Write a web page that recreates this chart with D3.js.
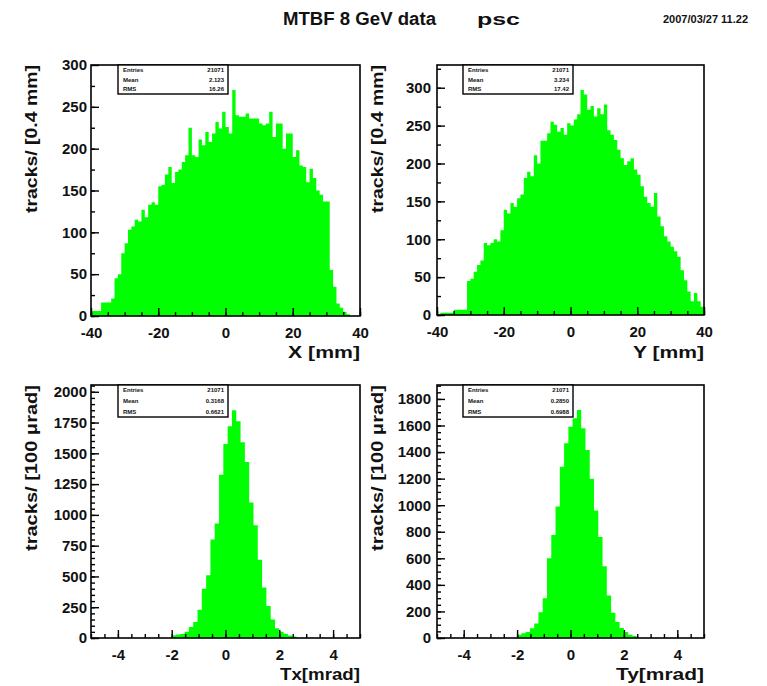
<!DOCTYPE html>
<html>
<head>
<meta charset="utf-8">
<script src="https://cdn.jsdelivr.net/npm/d3@7/dist/d3.min.js"></script>
<style>
  body { margin: 0; background: #fff; }
  svg text { font-family: "Liberation Sans", Arial, sans-serif; font-weight: bold; fill: #111; }
</style>
</head>
<body>
<svg id="paper"></svg>
<script>
// histogram contents (one value per bin)
const xCounts = [6, 6, 6, 16, 16, 16, 21, 45, 50, 75, 87, 103, 107, 115, 113, 127, 118, 133, 136, 133,
  155, 157, 169, 178, 159, 172, 175, 184, 192, 225, 192, 190, 211, 204, 220, 208, 218, 232, 224, 244,
  226, 218, 270, 240, 238, 238, 242, 236, 236, 236, 230, 228, 230, 244, 214, 230, 230, 200, 218, 218,
  190, 198, 180, 178, 160, 176, 165, 150, 145, 137, 137, 55, 35, 15, 10, 5, 2, 0, 0, 0];
const yCounts = [0, 3, 3, 3, 3, 7, 7, 7, 7, 45, 48, 57, 66, 72, 95, 92, 95, 100, 97, 112,
  139, 134, 148, 143, 154, 159, 181, 189, 183, 211, 200, 230, 230, 240, 255, 251, 242, 247, 238, 253,
  250, 258, 265, 297, 291, 271, 276, 262, 273, 265, 278, 244, 238, 231, 218, 207, 198, 203, 207, 192,
  185, 170, 156, 148, 143, 161, 130, 117, 104, 97, 90, 84, 77, 59, 46, 31, 18, 29, 18, 11];
const txCounts = [22, 28, 32, 50, 90, 130, 230, 400, 510, 800, 930, 1325, 1575, 1720, 1850, 1760, 1590,
  1430, 1100, 915, 635, 410, 260, 150, 80, 50, 35, 20, 12];
const tyCounts = [25, 35, 45, 73, 110, 193, 300, 600, 775, 990, 1290, 1466, 1590, 1654, 1716, 1580, 1415,
  1200, 960, 760, 540, 320, 190, 120, 75, 45, 25, 15];

// bins: [lower edge of first bin, bin width]
const xBins = [-40, 1];
const yBins = [-40, 1];
const txBins = [-2.0, 0.16];
const tyBins = [-2.0, 0.16];

// axis ranges and ticks
const mmDomain = [-40, 40];
const mradDomain = [-5, 5];
const mmTicks = [-40, -20, 0, 20, 40];
const mradTicks = [-4, -2, 0, 2, 4];
const xYTicks = [0, 50, 100, 150, 200, 250, 300];
const yYTicks = [0, 50, 100, 150, 200, 250, 300];
const txYTicks = [0, 250, 500, 750, 1000, 1250, 1500, 1750, 2000];
const tyYTicks = [0, 200, 400, 600, 800, 1000, 1200, 1400, 1600, 1800];

// stats boxes
const statLabels = ["Entries", "Mean", "RMS"];
const xStats = ["21071", "2.123", "16.26"];
const yStats = ["21071", "3.234", "17.42"];
const txStats = ["21071", "0.3168", "0.6621"];
const tyStats = ["21071", "0.2850", "0.6988"];

const title = "MTBF 8 GeV data";
const subTitle = "psc";
const stamp = "2007/03/27  11.22";

const Panel = class {

  constructor(opts) {
    this.o = opts;
  }

  render(svg) {
    const o = this.o;
    this.g = svg.append("g").attr("class", "panel");
    this.x = d3.scaleLinear().domain(o.xDomain).range([o.left, o.right]);
    this.y = d3.scaleLinear().domain([0, o.yMax]).range([o.bottom, o.top]);
    return this.hist().axes().frame().stats().titles();
  }

  hist() {
    const o = this.o;
    const [lo, w] = o.bins;
    let pts = o.counts.map((c, i) => [lo + i * w, c]);
    pts.push([lo + o.counts.length * w, o.counts[o.counts.length - 1]]);

    const area = d3.area()
      .x((d) => this.x(d[0]))
      .y0(this.y(0))
      .y1((d) => this.y(d[1]))
      .curve(d3.curveStepAfter);

    this.g.append("path")
      .attr("d", area(pts))
      .attr("fill", "#00ff00");
    return this;
  }

  axes() {
    const o = this.o;
    const noDomain = (sel) => sel.select(".domain").remove();
    const tickStyle = (sel) => sel.selectAll("line").attr("stroke", "#000").attr("stroke-width", 1.4);

    // minor ticks
    this.g.append("g")
      .attr("transform", `translate(0,${o.bottom})`)
      .call(d3.axisBottom(this.x).tickValues(o.xMinor).tickSizeInner(-4).tickSizeOuter(0).tickFormat(""))
      .call(noDomain).call(tickStyle);
    this.g.append("g")
      .attr("transform", `translate(${o.left},0)`)
      .call(d3.axisLeft(this.y).tickValues(o.yMinor).tickSizeInner(-4).tickSizeOuter(0).tickFormat(""))
      .call(noDomain).call(tickStyle);

    // major ticks + labels
    const xa = this.g.append("g")
      .attr("transform", `translate(0,${o.bottom})`)
      .call(d3.axisBottom(this.x).tickValues(o.xTicks).tickSizeInner(-8).tickSizeOuter(0)
        .tickPadding(o.xPad).tickFormat((d) => String(d)))
      .call(noDomain).call(tickStyle);
    const ya = this.g.append("g")
      .attr("transform", `translate(${o.left},0)`)
      .call(d3.axisLeft(this.y).tickValues(o.yTicks).tickSizeInner(-8).tickSizeOuter(0)
        .tickPadding(o.yPad).tickFormat((d) => String(d)))
      .call(noDomain).call(tickStyle);
    [xa, ya].forEach((a) => {
      a.attr("font-family", null).attr("font-size", null);
      a.selectAll("text").attr("font-size", 15).attr("fill", "#111");
    });
    return this;
  }

  frame() {
    const o = this.o;
    this.g.append("rect")
      .attr("x", o.left).attr("y", o.top)
      .attr("width", o.right - o.left).attr("height", o.bottom - o.top)
      .attr("fill", "none").attr("stroke", "#000").attr("stroke-width", 1.6);
    return this;
  }

  stats() {
    const o = this.o;
    const b = o.statBox;
    const box = this.g.append("g").attr("class", "stats");
    box.append("rect")
      .attr("x", b[0]).attr("y", o.top)
      .attr("width", b[1] - b[0]).attr("height", b[2] - o.top)
      .attr("fill", "#fff").attr("stroke", "#000").attr("stroke-width", 1.4);
    const rowH = (b[2] - o.top) / 3;
    statLabels.forEach((lab, i) => {
      const yy = o.top + rowH * (i + 0.5) + 2;
      box.append("text").attr("x", b[0] + 5).attr("y", yy)
        .attr("font-size", 6).text(lab);
      box.append("text").attr("x", b[1] - 4).attr("y", yy)
        .attr("font-size", 6).attr("text-anchor", "end").text(o.statValues[i]);
    });
    return this;
  }

  titles() {
    const o = this.o;
    this.g.append("text")
      .attr("x", o.right).attr("y", o.xTitleY)
      .attr("text-anchor", "end")
      .attr("font-size", 17)
      .attr("textLength", o.xTitleLen).attr("lengthAdjust", "spacingAndGlyphs")
      .text(o.xTitle);
    this.g.append("text")
      .attr("transform", `translate(${o.yTitleX},${o.top}) rotate(-90)`)
      .attr("text-anchor", "end")
      .attr("font-size", 16)
      .attr("textLength", o.yTitleLen).attr("lengthAdjust", "spacingAndGlyphs")
      .text(o.yTitle);
    return this;
  }
};

const svg = d3.select("#paper")
  .attr("width", 767)
  .attr("height", 686);

svg.append("rect").attr("width", 767).attr("height", 686).attr("fill", "#fff");

const mmMinor = d3.range(-40, 40.01, 5);
const mradMinor = d3.range(-5, 5.01, 0.5);

const panels = [
  {
    left: 91, right: 360, top: 65, bottom: 316,
    xDomain: mmDomain, yMax: 300, counts: xCounts, bins: xBins,
    xTicks: mmTicks, xMinor: mmMinor, yTicks: xYTicks, yMinor: d3.range(0, 300, 25),
    xPad: 11, yPad: 4, statBox: [118, 228, 94], statValues: xStats,
    xTitle: "X [mm]", xTitleY: 358, xTitleLen: 72,
    yTitle: "tracks/ [0.4 mm]", yTitleX: 37, yTitleLen: 148,
  },
  {
    left: 437, right: 704, top: 65, bottom: 315,
    xDomain: mmDomain, yMax: 330, counts: yCounts, bins: yBins,
    xTicks: mmTicks, xMinor: mmMinor, yTicks: yYTicks, yMinor: d3.range(0, 330, 25),
    xPad: 11, yPad: 6, statBox: [463, 573, 94], statValues: yStats,
    xTitle: "Y [mm]", xTitleY: 358, xTitleLen: 71,
    yTitle: "tracks/ [0.4 mm]", yTitleX: 383, yTitleLen: 148,
  },
  {
    left: 91, right: 360, top: 385, bottom: 638,
    xDomain: mradDomain, yMax: 2055, counts: txCounts, bins: txBins,
    xTicks: mradTicks, xMinor: mradMinor, yTicks: txYTicks, yMinor: d3.range(0, 2055, 50),
    xPad: 11, yPad: 4, statBox: [118, 228, 417], statValues: txStats,
    xTitle: "Tx[mrad]", xTitleY: 680, xTitleLen: 80,
    yTitle: "tracks/ [100 \u03bcrad]", yTitleX: 37, yTitleLen: 166,
  },
  {
    left: 437, right: 704, top: 385, bottom: 638,
    xDomain: mradDomain, yMax: 1905, counts: tyCounts, bins: tyBins,
    xTicks: mradTicks, xMinor: mradMinor, yTicks: tyYTicks, yMinor: d3.range(0, 1905, 50),
    xPad: 11, yPad: 6, statBox: [463, 573, 417], statValues: tyStats,
    xTitle: "Ty[mrad]", xTitleY: 680, xTitleLen: 88,
    yTitle: "tracks/ [100 \u03bcrad]", yTitleX: 383, yTitleLen: 166,
  },
];

panels.forEach((p) => new Panel(p).render(svg));

// page title and time stamp
svg.append("text")
  .attr("x", 283).attr("y", 25)
  .attr("font-size", 18)
  .attr("textLength", 153).attr("lengthAdjust", "spacingAndGlyphs")
  .text(title);
svg.append("text")
  .attr("x", 477).attr("y", 25)
  .attr("font-size", 17)
  .attr("textLength", 43).attr("lengthAdjust", "spacingAndGlyphs")
  .text(subTitle);
svg.append("text")
  .attr("x", 663).attr("y", 23)
  .attr("font-size", 11)
  .attr("textLength", 85).attr("lengthAdjust", "spacingAndGlyphs")
  .text(stamp);
</script>
</body>
</html>
